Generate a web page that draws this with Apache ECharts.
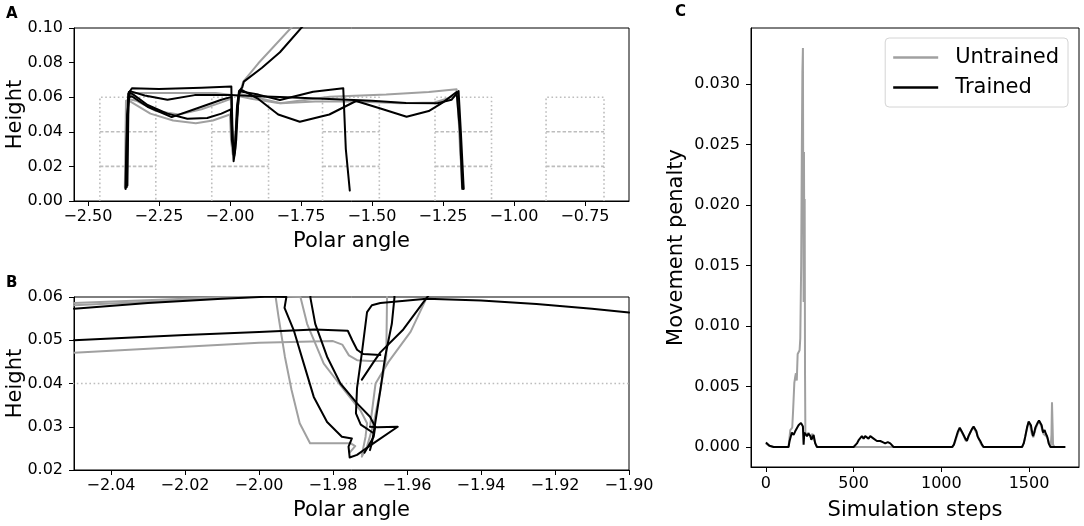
<!DOCTYPE html>
<html>
<head>
<meta charset="utf-8">
<script src="https://cdn.jsdelivr.net/npm/echarts@6/dist/echarts.min.js"></script>
<style>
  html, body { margin: 0; background: #fff; }
  #main { width: 1084px; height: 526px; }
</style>
</head>
<body>
<div id="main"></div>
<script>
// ---- panel A: foot tip paths, [polar angle, height] ----
const trainedA1 = [[-2.366,0.008],[-2.363,0.035],[-2.358,0.062],[-2.345,0.0652],[-2.25,0.0648],[-2.10,0.0655],[-1.995,0.0662],[-1.993,0.045],[-1.987,0.023],[-1.981,0.030],[-1.975,0.055],[-1.968,0.0635],[-1.957,0.0655],[-1.951,0.069],[-1.887,0.077],[-1.824,0.086],[-1.747,0.1004],[-1.70,0.108]];
const trainedA2 = [[-2.364,0.008],[-2.361,0.04],[-2.356,0.063],[-2.34,0.0615],[-2.29,0.0555],[-2.22,0.0505],[-2.15,0.0475],[-2.08,0.048],[-2.03,0.0505],[-1.997,0.053],[-1.993,0.035],[-1.985,0.026],[-1.978,0.035],[-1.970,0.060],[-1.962,0.0645],[-1.90,0.059],[-1.83,0.050],[-1.754,0.0458],[-1.65,0.050],[-1.556,0.0578],[-1.47,0.0535],[-1.378,0.0487],[-1.30,0.052],[-1.25,0.057],[-1.202,0.063],[-1.19,0.040],[-1.182,0.007]];
const trainedA3 = [[-2.368,0.007],[-2.362,0.05],[-2.352,0.0635],[-2.30,0.061],[-2.22,0.0585],[-2.124,0.0612],[-1.99,0.0612],[-1.90,0.0605],[-1.80,0.0600],[-1.65,0.0590],[-1.50,0.0580],[-1.38,0.0567],[-1.27,0.0565],[-1.22,0.0585],[-1.195,0.0635],[-1.187,0.04],[-1.177,0.007]];
const trainedA4 = [[-2.361,0.009],[-2.357,0.06],[-2.345,0.0605],[-2.29,0.0545],[-2.24,0.051],[-2.205,0.0485],[-2.10,0.0545],[-2.03,0.0585],[-1.994,0.0602],[-1.99,0.035],[-1.984,0.028],[-1.977,0.045],[-1.967,0.0635],[-1.90,0.0615],[-1.824,0.0584],[-1.707,0.0632],[-1.601,0.0652],[-1.592,0.03],[-1.578,0.006]];
const untrainedA1 = [[-2.370,0.008],[-2.366,0.058],[-2.35,0.0575],[-2.28,0.0505],[-2.20,0.0465],[-2.12,0.0450],[-2.06,0.0465],[-2.00,0.050],[-1.996,0.035],[-1.990,0.027],[-1.983,0.032],[-1.975,0.055],[-1.962,0.064],[-1.953,0.069],[-1.90,0.0796],[-1.783,0.1004],[-1.74,0.108]];
const untrainedA2 = [[-2.366,0.007],[-2.362,0.058],[-2.348,0.0625],[-2.20,0.0625],[-2.05,0.0625],[-1.98,0.061],[-1.92,0.059],[-1.824,0.0565],[-1.648,0.0603],[-1.45,0.0615],[-1.30,0.063],[-1.202,0.0646],[-1.195,0.0635],[-1.19,0.035],[-1.183,0.008]];
const untrainedA3 = [[-2.363,0.008],[-2.358,0.059],[-2.33,0.058],[-2.26,0.052],[-2.18,0.050],[-2.10,0.053],[-2.03,0.057],[-1.997,0.059],[-1.992,0.04],[-1.986,0.026],[-1.979,0.04],[-1.968,0.062],[-1.90,0.0595],[-1.82,0.0565],[-1.70,0.0575],[-1.55,0.0575],[-1.40,0.0565],[-1.28,0.057],[-1.21,0.0605],[-1.197,0.062],[-1.19,0.03],[-1.178,0.007]];

// ---- panel B: close-up of the step at -1.98 ----
const trainedB1 = [[-2.05,0.0500],[-2.02,0.0512],[-2.00,0.0519],[-1.985,0.0525],[-1.976,0.0522],[-1.9748,0.0500],[-1.9735,0.0478],[-1.9718,0.0468],[-1.9672,0.0466]];
const trainedB2 = [[-2.05,0.0573],[-2.03,0.0586],[-2.01,0.0596],[-1.997,0.0601],[-1.9926,0.0600],[-1.9931,0.0575],[-1.9906,0.0523],[-1.9879,0.0446],[-1.9852,0.0369],[-1.9816,0.0311],[-1.9776,0.0277],[-1.9749,0.0273],[-1.9758,0.0254],[-1.9755,0.0229],[-1.9735,0.0235],[-1.9712,0.0249],[-1.9690,0.0262],[-1.9625,0.0300],[-1.9680,0.0299],[-1.9700,0.0300]];
const trainedB3 = [[-1.9862,0.0640],[-1.9861,0.0598],[-1.9848,0.0538],[-1.9816,0.0462],[-1.978,0.0400],[-1.9735,0.0354],[-1.970,0.0323],[-1.9686,0.0300],[-1.9690,0.0277],[-1.9700,0.0262],[-1.9715,0.0240]];
const trainedB4 = [[-1.9634,0.0640],[-1.9634,0.0598],[-1.9641,0.0538],[-1.9659,0.0462],[-1.9672,0.0385],[-1.9686,0.0308],[-1.9695,0.0262],[-1.9700,0.0246]];
const trainedB5 = [[-1.9690,0.0285],[-1.9725,0.0305],[-1.9738,0.0331],[-1.9735,0.0390],[-1.9722,0.0470],[-1.9708,0.0565],[-1.9695,0.0581],[-1.9672,0.0586],[-1.9547,0.0596],[-1.940,0.0592],[-1.925,0.0584],[-1.91,0.0573],[-1.90,0.0564]];
const trainedB6 = [[-1.9722,0.0409],[-1.9690,0.0450],[-1.9672,0.0472],[-1.9610,0.0525],[-1.9547,0.0598],[-1.9540,0.0605]];
const untrainedB1 = [[-2.05,0.0471],[-2.02,0.0485],[-2.00,0.0494],[-1.980,0.0498],[-1.9775,0.0490],[-1.9757,0.0465],[-1.9735,0.0454],[-1.9700,0.0452],[-1.9665,0.0452]];
const untrainedB2 = [[-2.05,0.0586],[-2.02,0.0596],[-2.00,0.0603],[-1.9955,0.0600],[-1.9947,0.0553],[-1.9930,0.0462],[-1.9912,0.0385],[-1.9890,0.0308],[-1.9862,0.0262],[-1.9753,0.0262],[-1.9740,0.0255],[-1.9755,0.0240]];
const untrainedB3 = [[-2.05,0.0581],[-2.02,0.0593],[-1.995,0.0603],[-1.9888,0.0600],[-1.9870,0.0538],[-1.9825,0.0446],[-1.9770,0.0385],[-1.9726,0.0338],[-1.9708,0.0308],[-1.9712,0.0277],[-1.9722,0.0235]];
const untrainedB4 = [[-1.9654,0.0640],[-1.9654,0.0598],[-1.9656,0.0462],[-1.9672,0.0385],[-1.9690,0.0308],[-1.9708,0.0254],[-1.9722,0.0231]];
const untrainedB5 = [[-1.9700,0.0300],[-1.9685,0.0400],[-1.9650,0.0450],[-1.9590,0.0520],[-1.9547,0.0598]];

// stepping blocks (polar angle edges, heights)
const blockLeft = [-2.458, -2.064, -1.674, -1.278, -0.887];
const blockRight = [-2.261, -1.864, -1.474, -1.079, -0.683];
const blockTop = 0.06;
const blockLevels = [0.02, 0.04];

// ---- panel C: movement penalty per simulation step ----
const trainedC = [[0,0.00038],[20,0.0001],[44,0],[129,0],[135,0.0005],[148,0.0012],[158,0.0010],[167,0.0013],[178,0.0016],[186,0.0018],[200,0.0020],[208,0.0019],[211,0.0017],[215,0.0002],[219,0.0012],[228,0.0011],[234,0.0009],[242,0.0011],[249,0.0012],[254,0.0009],[259,0.0006],[266,0.0008],[272,0.0010],[277,0.0006],[281,0.0003],[291,0],[500,0],[510,0.0001],[519,0.0003],[530,0.0006],[547,0.0009],[557,0.0007],[566,0.0009],[576,0.0009],[585,0.0007],[595,0.0009],[605,0.0008],[614,0.0007],[624,0.0006],[633,0.0005],[643,0.0006],[652,0.0005],[666,0.0004],[680,0.0003],[695,0.0004],[709,0.0003],[728,0],[1061,0],[1072,0.0002],[1080,0.0006],[1095,0.0013],[1105,0.0016],[1116,0.0013],[1127,0.0010],[1137,0.0007],[1146,0.0005],[1155,0.0009],[1165,0.0012],[1175,0.0015],[1184,0.0017],[1192,0.0016],[1200,0.0013],[1206,0.0009],[1213,0.0007],[1222,0.0005],[1232,0.0002],[1241,0],[1460,0],[1470,0.0003],[1479,0.0009],[1490,0.0017],[1498,0.0021],[1505,0.0020],[1511,0.0018],[1517,0.0013],[1523,0.0009],[1530,0.0012],[1536,0.0016],[1543,0.0017],[1549,0.0020],[1557,0.0022],[1565,0.0023],[1572,0.0018],[1580,0.0012],[1585,0.0013],[1589,0.0014],[1596,0.0011],[1603,0.0009],[1608,0.0006],[1612,0.0003],[1622,0],[1707,0]];
const untrainedC = [[0,0.0003],[20,0.0001],[44,0],[129,0],[139,0.0014],[150,0.0016],[155,0.0030],[162,0.0053],[167,0.0058],[171,0.0061],[176,0.0055],[181,0.0077],[186,0.0078],[192,0.0080],[196,0.0090],[201,0.0150],[205,0.0250],[208,0.0310],[211,0.0330],[213,0.0200],[215,0.0120],[217,0.0244],[219,0.0150],[221,0.0205],[223,0.0060],[225,0.0012],[235,0.0010],[243,0.0012],[255,0.0008],[265,0.0011],[272,0.0012],[280,0.0004],[292,0],[1065,0],[1080,0.0005],[1096,0.0012],[1106,0.0015],[1118,0.0012],[1128,0.0009],[1140,0.0005],[1150,0.0007],[1162,0.0011],[1172,0.0014],[1184,0.0016],[1194,0.0015],[1204,0.0011],[1214,0.0007],[1225,0.0003],[1238,0],[1462,0],[1475,0.0006],[1488,0.0015],[1497,0.0020],[1506,0.0018],[1516,0.0011],[1525,0.0008],[1535,0.0014],[1548,0.0019],[1560,0.0021],[1570,0.0017],[1582,0.0011],[1592,0.0012],[1604,0.0008],[1615,0.0003],[1624,0.0001],[1628,0.0010],[1631,0.0037],[1634,0.0020],[1637,0.0002],[1645,0],[1707,0]];

// tick labels
const ticksAx = [-2.5, -2.25, -2, -1.75, -1.5, -1.25, -1, -0.75];
const ticksAy = [0, 0.02, 0.04, 0.06, 0.08, 0.1];
const ticksBx = [-2.04, -2.02, -2, -1.98, -1.96, -1.94, -1.92, -1.9];
const ticksBy = [0.02, 0.03, 0.04, 0.05, 0.06];
const ticksCx = [0, 500, 1000, 1500];
const ticksCy = [0, 0.005, 0.01, 0.015, 0.02, 0.025, 0.03];

const font = 'DejaVu Sans';
const GREY = '#a0a0a0';
const BLOCK = '#bdbdbd';

function fmt(v, d) {
  return (+v).toFixed(d).replace('-', '\u2212');
}

function axis(gi, min, max, ticks, digits, name, gap, margin) {
  return {
    type: 'value', gridIndex: gi, min: min, max: max,
    name: name, nameLocation: 'middle', nameGap: gap, nameMoveOverlap: false,
    nameTextStyle: { fontSize: 21, color: '#000', fontFamily: font },
    axisLine: { show: true, onZero: false, lineStyle: { color: '#000', width: 1 } },
    axisTick: { show: true, customValues: ticks, length: 5, lineStyle: { color: '#000', width: 1 } },
    axisLabel: { customValues: ticks, fontSize: 16, color: '#000', fontFamily: font, margin: margin,
      formatter: v => fmt(v, digits) },
    splitLine: { show: false }
  };
}

function path(data, color, gi, z) {
  return {
    type: 'line', xAxisIndex: gi, yAxisIndex: gi, data: data,
    symbol: 'none', silent: true, clip: true, z: z,
    lineStyle: { color: color, width: 2, cap: 'round', join: 'round' }
  };
}

// block outlines and levels; only what lies strictly inside the y range
function blocks(gi, yMin, yMax, innerDash) {
  const out = [];
  const base = { type: 'line', xAxisIndex: gi, yAxisIndex: gi, symbol: 'none', silent: true, z: 1 };
  blockLeft.forEach((l, i) => {
    const r = blockRight[i];
    if (blockTop < yMax) {
      out.push(Object.assign({}, base, {
        data: [[l, 0], [l, blockTop], [r, blockTop], [r, 0]],
        lineStyle: { color: BLOCK, width: 1.6, type: [1.6, 2.6] }
      }));
    }
    blockLevels.filter(h => h > yMin && h < yMax).forEach(h => {
      out.push(Object.assign({}, base, {
        data: [[l, h], [r, h]],
        lineStyle: { color: BLOCK, width: 1.6, type: innerDash }
      }));
    });
  });
  return out;
}

const chart = echarts.init(document.getElementById('main'), null, { renderer: 'canvas' });

const series = [].concat(
  blocks(0, 0, 0.1, [3.5, 2]),
  blocks(1, 0.02, 0.06, [1.6, 2.6]),
  [untrainedA1, untrainedA2, untrainedA3].map(d => path(d, GREY, 0, 2)),
  [trainedA1, trainedA2, trainedA3, trainedA4].map(d => path(d, '#000', 0, 3)),
  [untrainedB1, untrainedB2, untrainedB3, untrainedB4, untrainedB5].map(d => path(d, GREY, 1, 2)),
  [trainedB1, trainedB2, trainedB3, trainedB4, trainedB5, trainedB6].map(d => path(d, '#000', 1, 3)),
  [
    { name: 'Untrained', type: 'line', xAxisIndex: 2, yAxisIndex: 2, data: untrainedC, symbol: 'none',
      silent: true, z: 2, itemStyle: { color: GREY }, lineStyle: { color: GREY, width: 2 } },
    { name: 'Trained', type: 'line', xAxisIndex: 2, yAxisIndex: 2, data: trainedC, symbol: 'none',
      silent: true, z: 3, itemStyle: { color: '#000' }, lineStyle: { color: '#000', width: 2 } }
  ]
);

chart.setOption({
  animation: false,
  backgroundColor: '#fff',
  textStyle: { fontFamily: font },
  grid: [
    { left: 74, top: 28, width: 555, height: 173, show: true, borderColor: '#000', borderWidth: 1, outerBoundsMode: 'none' },
    { left: 74, top: 297, width: 555, height: 173, show: true, borderColor: '#000', borderWidth: 1, outerBoundsMode: 'none' },
    { left: 751, top: 28, width: 328, height: 439, show: true, borderColor: '#000', borderWidth: 1, outerBoundsMode: 'none' }
  ],
  xAxis: [
    axis(0, -2.549, -0.595, ticksAx, 2, 'Polar angle', 30, 8),
    axis(1, -2.05, -1.90, ticksBx, 2, 'Polar angle', 30, 8),
    axis(2, -85, 1785, ticksCx, 0, 'Simulation steps', 33, 9)
  ],
  yAxis: [
    axis(0, 0, 0.1, ticksAy, 2, 'Height', 48, 11),
    axis(1, 0.02, 0.06, ticksBy, 2, 'Height', 48, 11),
    axis(2, -0.00165, 0.03465, ticksCy, 3, 'Movement penalty', 64, 11)
  ],
  legend: {
    data: ['Untrained', 'Trained'],
    orient: 'vertical', right: 16, top: 38,
    icon: 'rect', itemWidth: 45, itemHeight: 2.5, itemGap: 9,
    padding: [9, 9, 9, 8],
    backgroundColor: '#fff', borderColor: '#d4d4d4', borderWidth: 1, borderRadius: 4,
    textStyle: { fontSize: 21, color: '#000', fontFamily: font, padding: [0, 0, 0, 12] },
    selectedMode: false
  },
  graphic: [
    { type: 'text', left: 6, top: 7, style: { text: 'A', font: 'bold 15px "DejaVu Sans"', fill: '#000' } },
    { type: 'text', left: 6, top: 276, style: { text: 'B', font: 'bold 15px "DejaVu Sans"', fill: '#000' } },
    { type: 'text', left: 675, top: 5, style: { text: 'C', font: 'bold 15px "DejaVu Sans"', fill: '#000' } }
  ],
  series: series
});
</script>
</body>
</html>
